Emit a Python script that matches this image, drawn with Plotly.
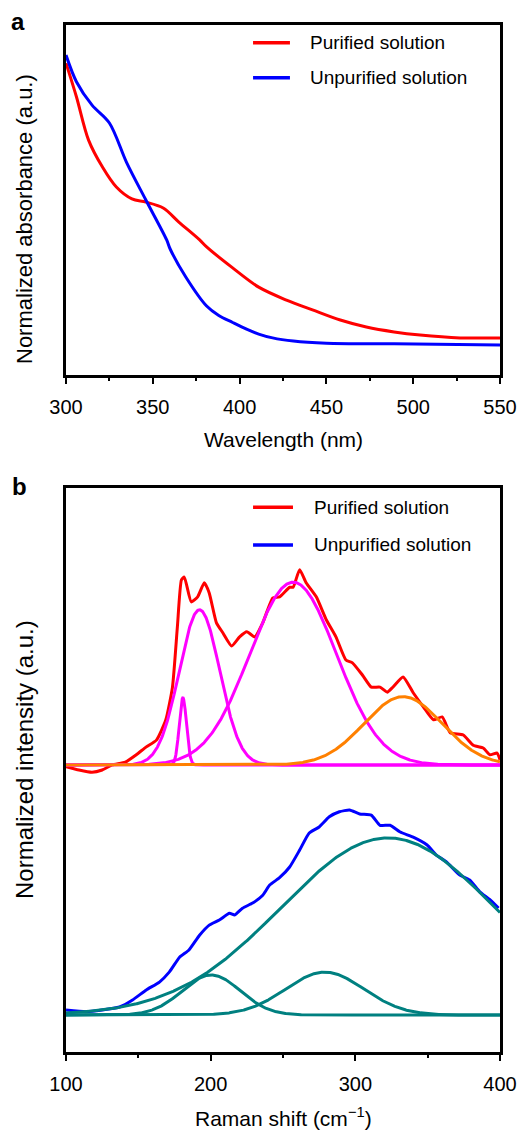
import numpy as np
import plotly.graph_objects as go

# ---------------- Panel a: UV-vis absorbance ----------------
wl_purified = [300, 306, 313, 321, 329, 338, 346, 356, 365, 377, 381, 396, 411,
               427, 442, 458, 473, 489, 504, 527, 550]
abs_purified = [0.891, 0.795, 0.671, 0.594, 0.537, 0.503, 0.494, 0.477, 0.437,
                0.386, 0.366, 0.306, 0.251, 0.214, 0.186, 0.157, 0.137, 0.123,
                0.114, 0.106, 0.106]

wl_unpurified = [300, 306, 315, 325, 335, 346, 358, 360, 369, 381, 388, 396, 404,
                 411, 419, 431, 450, 489, 550]
abs_unpurified = [0.914, 0.838, 0.771, 0.720, 0.606, 0.500, 0.386, 0.360, 0.280,
                  0.197, 0.170, 0.150, 0.131, 0.117, 0.106, 0.097, 0.091, 0.089,
                  0.086]

# ---------------- Panel b: Raman spectra ----------------
raman_purified_x = [100, 109, 118, 125, 132, 141, 148.6, 155.5, 162.5, 169, 173.6,
                    177, 179.8, 181.8, 186.6, 191, 195.6, 199, 204, 208.5, 214.5,
                    220, 225, 230.5, 236, 243, 247.6, 254.6, 257, 261.5, 266, 273,
                    280, 286.6, 293.5, 298, 305, 311, 317, 322, 326, 333, 340, 347,
                    354, 360, 365.6, 374.6, 381.5, 388.4, 393, 398, 400]
raman_purified_y = [0.506, 0.500, 0.496, 0.500, 0.509, 0.514, 0.527, 0.541, 0.553,
                    0.589, 0.647, 0.754, 0.837, 0.842, 0.798, 0.807, 0.832, 0.814,
                    0.761, 0.743, 0.720, 0.736, 0.745, 0.736, 0.761, 0.805, 0.807,
                    0.824, 0.824, 0.855, 0.832, 0.807, 0.766, 0.736, 0.695, 0.690,
                    0.668, 0.647, 0.647, 0.638, 0.647, 0.665, 0.637, 0.612, 0.589,
                    0.594, 0.566, 0.562, 0.544, 0.539, 0.527, 0.530, 0.518]

raman_unpurified_x = [100, 113.8, 125, 137, 146, 155.5, 164.6, 171.5, 178.5, 185,
                      192.3, 199, 206, 213, 216.6, 222, 229, 236, 240.8, 247.6,
                      254.6, 261.5, 268, 275, 282, 289, 296, 303, 311, 317, 324,
                      331, 340, 349.6, 356, 363, 372, 379, 386, 393, 399]
raman_unpurified_y = [0.0745, 0.0715, 0.0745, 0.0798, 0.0922, 0.110, 0.124, 0.142,
                      0.168, 0.181, 0.207, 0.225, 0.234, 0.246, 0.243, 0.255, 0.264,
                      0.278, 0.296, 0.309, 0.328, 0.358, 0.388, 0.399, 0.417, 0.426,
                      0.429, 0.422, 0.420, 0.402, 0.402, 0.390, 0.381, 0.367, 0.349,
                      0.337, 0.314, 0.305, 0.284, 0.270, 0.255]

# Gaussian fit components (center, height above baseline, sigma)
purified_baseline = 0.509
purified_fit_centers = [180.8, 192.3, 257.0]
purified_fit_heights = [0.119, 0.275, 0.324]
purified_fit_sigmas = [2.5, 14.0, 30.0]
purified_extra_center = 333.0
purified_extra_height = 0.121
purified_extra_sigma = 27.0

unpurified_baseline = 0.0656
unpurified_fit_centers = [200.4, 278.9, 322.6]
unpurified_fit_heights = [0.071, 0.076, 0.314]
unpurified_fit_sigmas = [20.0, 27.0, 74.0]

RED = "#ff0000"
BLUE = "#0000ff"
MAGENTA = "#ff00ff"
ORANGE = "#ff8000"
TEAL = "#008080"
FONT = "Liberation Sans, Arial, Helvetica, sans-serif"

W, H = 522, 1132
# plot-area pixel boxes (left, right, top, bottom)
A_BOX = (66, 500, 25, 375)
B_BOX = (66, 500, 488, 1052)


def xdom(box):
    return [box[0] / W, box[1] / W]


def ydom(box):
    return [1 - box[3] / H, 1 - box[2] / H]


def gauss(x, c, h, s):
    return h * np.exp(-((x - c) ** 2) / (2 * s ** 2))


fig = go.Figure()

fig.add_trace(go.Scatter(x=wl_purified, y=abs_purified, mode="lines",
                         line=dict(color=RED, width=3, shape="spline", smoothing=0.9),
                         xaxis="x", yaxis="y", showlegend=False))
fig.add_trace(go.Scatter(x=wl_unpurified, y=abs_unpurified, mode="lines",
                         line=dict(color=BLUE, width=3, shape="spline", smoothing=0.9),
                         xaxis="x", yaxis="y", showlegend=False))

# Raman data
fig.add_trace(go.Scatter(x=raman_purified_x, y=raman_purified_y, mode="lines",
                         line=dict(color=RED, width=3, shape="spline", smoothing=0.5),
                         xaxis="x2", yaxis="y2", showlegend=False))
fig.add_trace(go.Scatter(x=raman_unpurified_x, y=raman_unpurified_y, mode="lines",
                         line=dict(color=BLUE, width=3, shape="spline", smoothing=0.5),
                         xaxis="x2", yaxis="y2", showlegend=False))

xf = np.linspace(100, 400, 901)
for c, h, s in zip(purified_fit_centers, purified_fit_heights, purified_fit_sigmas):
    fig.add_trace(go.Scatter(x=xf, y=purified_baseline + gauss(xf, c, h, s), mode="lines",
                             line=dict(color=MAGENTA, width=3),
                             xaxis="x2", yaxis="y2", showlegend=False))
fig.add_trace(go.Scatter(x=xf, y=purified_baseline + gauss(xf, purified_extra_center,
                                                           purified_extra_height,
                                                           purified_extra_sigma),
                         mode="lines", line=dict(color=ORANGE, width=3),
                         xaxis="x2", yaxis="y2", showlegend=False))
for c, h, s in zip(unpurified_fit_centers, unpurified_fit_heights, unpurified_fit_sigmas):
    fig.add_trace(go.Scatter(x=xf, y=unpurified_baseline + gauss(xf, c, h, s), mode="lines",
                             line=dict(color=TEAL, width=3),
                             xaxis="x2", yaxis="y2", showlegend=False))

axis_common = dict(showline=True, linecolor="black", linewidth=2.5, mirror=True,
                   showgrid=False, zeroline=False, automargin=False)
tickfont = dict(family=FONT, size=20, color="black")

fig.update_layout(
    width=W, height=H,
    margin=dict(l=0, r=0, t=0, b=0),
    paper_bgcolor="white", plot_bgcolor="white",
    showlegend=False,
    xaxis=dict(domain=xdom(A_BOX), anchor="y", range=[300, 550], tickvals=[300, 350, 400, 450, 500, 550],
               ticks="outside", ticklen=6, tickwidth=2, tickcolor="black",
               minor=dict(tickvals=[325, 375, 425, 475, 525], ticks="outside", ticklen=3,
                          tickwidth=2, tickcolor="black"),
               tickfont=tickfont, ticklabelstandoff=6, **axis_common),
    yaxis=dict(domain=ydom(A_BOX), anchor="x", range=[0, 1], showticklabels=False,
               ticks="", **axis_common),
    xaxis2=dict(domain=xdom(B_BOX), anchor="y2", range=[100, 400], tickvals=[100, 200, 300, 400],
                ticks="outside", ticklen=6, tickwidth=2, tickcolor="black",
                minor=dict(tickvals=[150, 250, 350], ticks="outside", ticklen=3,
                           tickwidth=2, tickcolor="black"),
                tickfont=tickfont, ticklabelstandoff=6, **axis_common),
    yaxis2=dict(domain=ydom(B_BOX), anchor="x2", range=[0, 1], showticklabels=False,
                ticks="", **axis_common),
)

# Legends drawn as keys + labels inside each panel
legend_entries = [("Purified solution", RED), ("Unpurified solution", BLUE)]
legend_layout = [
    ("x", "y", [0.949, 0.849], 0.431, 0.516, 0.558),
    ("x2", "y2", [0.966, 0.899], 0.431, 0.523, 0.567),
]
for xa, ya, ys, x0, x1, xt in legend_layout:
    for (label, color), yy in zip(legend_entries, ys):
        fig.add_shape(type="line", xref=f"{xa} domain", yref=f"{ya} domain",
                      x0=x0, x1=x1, y0=yy, y1=yy, line=dict(color=color, width=3.5))
        fig.add_annotation(xref=f"{xa} domain", yref=f"{ya} domain", x=xt, y=yy,
                           text=label, showarrow=False, xanchor="left", yanchor="middle",
                           font=dict(family=FONT, size=19, color="black"))

# Axis titles and panel letters
texts = [
    ("Wavelength (nm)", 283 / W, 1 - 439 / H, 0, 21, False),
    ("Raman shift (cm<sup>\u22121</sup>)", 283 / W, 1 - 1117 / H, 0, 21, False),
    ("Normalized absorbance (a.u.)", 24 / W, 1 - 219 / H, -90, 22, False),
    ("Normalized intensity (a.u.)", 24 / W, 1 - 760 / H, -90, 24, False),
    ("a", 18 / W, 1 - 21 / H, 0, 24, True),
    ("b", 19 / W, 1 - 487 / H, 0, 24, True),
]
for txt, x, y, ang, size, bold in texts:
    fig.add_annotation(xref="paper", yref="paper", x=x, y=y, text=f"<b>{txt}</b>" if bold else txt,
                       showarrow=False, xanchor="center", yanchor="middle", textangle=ang,
                       font=dict(family=FONT, size=size, color="black"))

fig.write_html("out.html")
